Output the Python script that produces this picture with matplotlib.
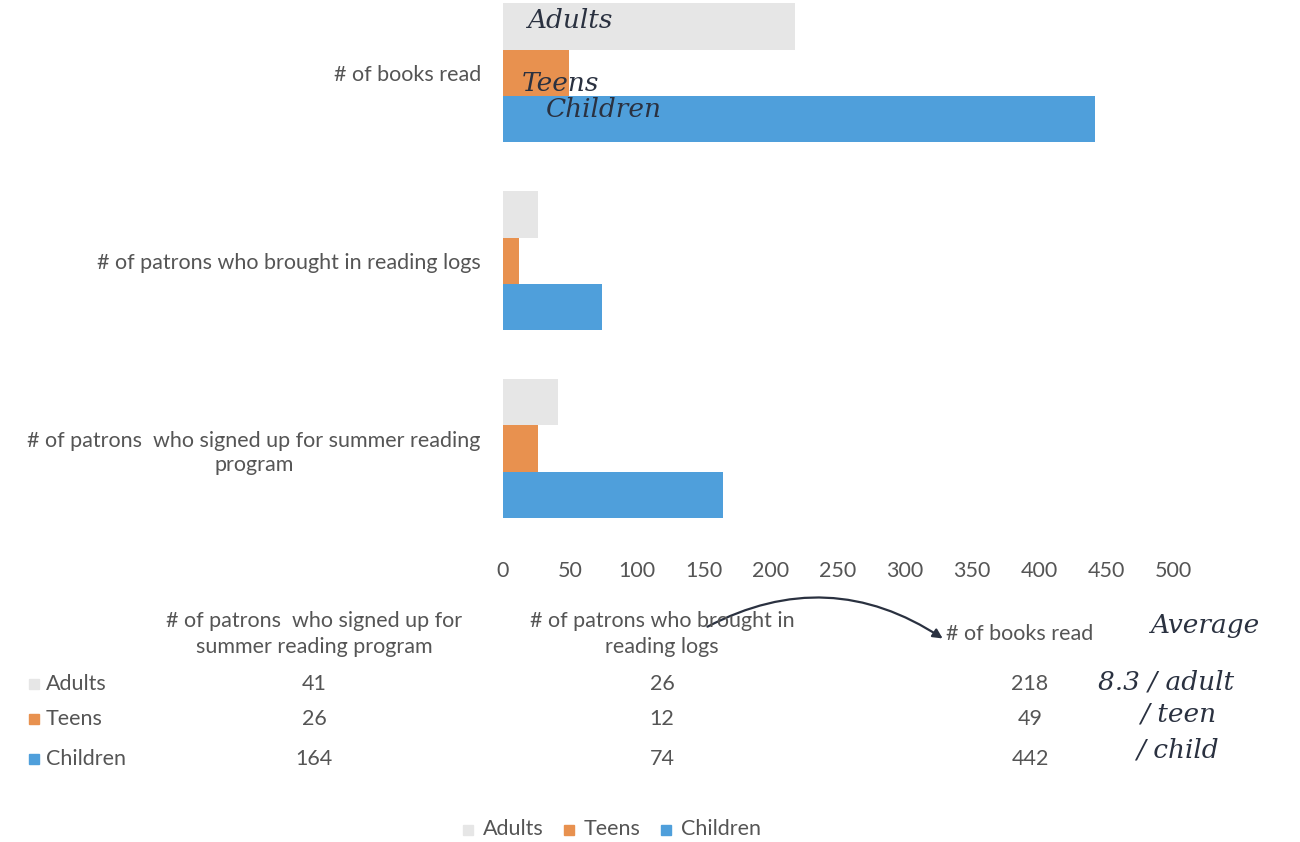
import matplotlib
matplotlib.use("Agg")
import matplotlib.pyplot as plt
from matplotlib.patches import Rectangle, FancyArrowPatch
import numpy as np

categories = ["# of patrons  who signed up for summer reading\nprogram",
              "# of patrons who brought in reading logs",
              "# of books read"]
table_headers = ["# of patrons  who signed up for\nsummer reading program",
                 "# of patrons who brought in\nreading logs",
                 "# of books read"]
series_names = ["Adults", "Teens", "Children"]
adults = [41, 26, 218]
teens = [26, 12, 49]
children = [164, 74, 442]
x_ticks = [0, 50, 100, 150, 200, 250, 300, 350, 400, 450, 500]

colors = {"Adults": "#e6e6e6", "Teens": "#e8914f", "Children": "#4f9fdb"}
text_color = "#555555"
hand_color = "#2a3140"
FS = 15.5

plt.rcParams["font.family"] = ["Lato", "DejaVu Sans"]

W, H = 1300, 842
fig = plt.figure(figsize=(W / 100, H / 100), dpi=100)
fig.patch.set_facecolor("white")

def fx(x):
    return x / W

def fy(y):
    return 1 - y / H

ax = fig.add_axes([fx(503), fy(542.5), fx(1173) - fx(503), fy(0) - fy(542.5)])
ax.set_facecolor("white")
y = np.arange(len(categories))
h = 0.245
series = [adults, teens, children]
offsets = [h, 0, -h]
for name, vals, off in zip(series_names, series, offsets):
    ax.barh(y + off, vals, height=h, color=colors[name], edgecolor="none")

ax.set_xlim(0, 500)
ax.set_ylim(-0.5, 2.386)
ax.set_xticks(x_ticks)
ax.set_xticklabels([str(t) for t in x_ticks], fontsize=FS, color=text_color)
ax.tick_params(axis="x", length=0, pad=13)
ax.set_yticks(y)
ax.set_yticklabels(categories, fontsize=FS, color=text_color)
for lbl in ax.get_yticklabels():
    lbl.set_horizontalalignment("right")
    lbl.set_multialignment("center")
    lbl.set_linespacing(1.3)
ax.tick_params(axis="y", length=0, pad=16)
for s in ax.spines.values():
    s.set_visible(False)

# handwritten bar annotations
hand = dict(color=hand_color, fontsize=19, style="italic", family=["DejaVu Serif"])
ax.text(18, 2 + h + 0.03, "Adults", va="center", **hand)
ax.text(14, 2 - 0.06, "Teens", va="center", **hand)
ax.text(32, 2 - h + 0.05, "Children", va="center", **hand)

# data table
col_x = [314, 662, 1020]
for cx, hdr in zip(col_x, table_headers):
    fig.text(fx(cx), fy(634), hdr, ha="center", va="center", fontsize=FS,
             color=text_color, linespacing=1.35)
row_y = [684, 719, 759]
for ri, (ry, name) in enumerate(zip(row_y, series_names)):
    fig.patches.append(Rectangle((fx(29), fy(ry + 5)), fx(10), 10 / H,
                                 transform=fig.transFigure, color=colors[name]))
    fig.text(fx(46), fy(ry), name, ha="left", va="center", fontsize=FS, color=text_color)
    for ci, cx in enumerate(col_x):
        fig.text(fx(cx + (10 if ci == 2 else 0)), fy(ry), str(series[ri][ci]),
                 ha="center", va="center", fontsize=FS, color=text_color)

# legend
leg_items = [(463, "Adults"), (564, "Teens"), (661, "Children")]
for lx, name in leg_items:
    fig.patches.append(Rectangle((fx(lx), fy(835)), fx(10), 10 / H,
                                 transform=fig.transFigure, color=colors[name]))
    fig.text(fx(lx + 20), fy(829), name, ha="left", va="center", fontsize=FS,
             color=text_color)

# handwritten notes
fig.text(fx(1150), fy(626), "Average", ha="left", va="center", **hand)
fig.text(fx(1098), fy(682), "8.3 / adult", ha="left", va="center", **hand)
fig.text(fx(1140), fy(714), "/ teen", ha="left", va="center", **hand)
fig.text(fx(1136), fy(750), "/ child", ha="left", va="center", **hand)
fig.patches.append(FancyArrowPatch(
    (fx(705), fy(628)), (fx(945), fy(640)), transform=fig.transFigure,
    connectionstyle="arc3,rad=-0.3", arrowstyle="-|>", mutation_scale=14,
    color=hand_color, lw=1.6))

fig.savefig("out.png", dpi=100, facecolor="white")
